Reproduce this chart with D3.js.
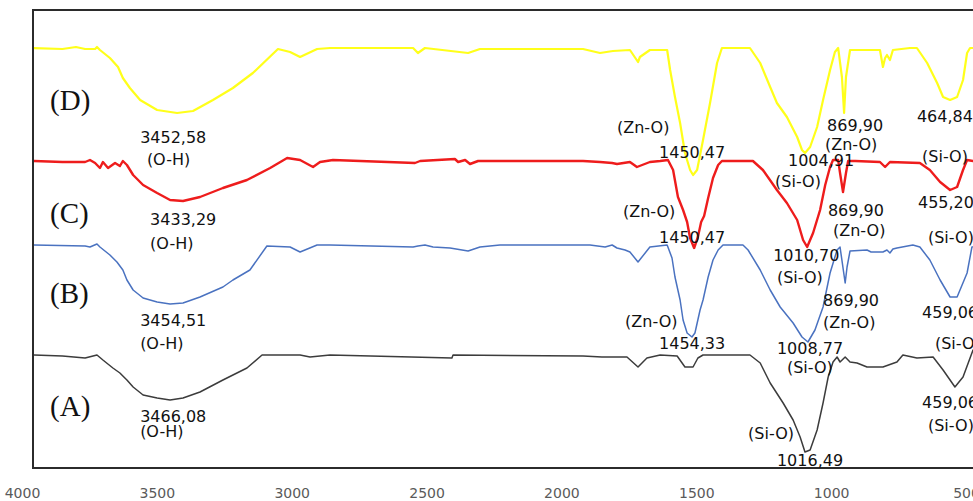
<!DOCTYPE html>
<html>
<head>
<meta charset="utf-8">
<script src="https://cdn.jsdelivr.net/npm/d3@7/dist/d3.min.js"></script>
<style>
  html, body { margin: 0; padding: 0; background: #fff; }
  svg { display: block; }
</style>
</head>
<body>
<svg id="chart" width="973" height="501"></svg>
<script>
// ---- DATA (wavenumber cm-1, offset transmittance in arbitrary units) ----
const xTicks = [4000, 3500, 3000, 2500, 2000, 1500, 1000, 500];

const seriesD = [[3963,420],[3850,419],[3800,421],[3766,419],[3729,419],[3722,421],[3711,418],[3674,410],[3644,401],[3626,390],[3600,380],[3562,368],[3499,358],[3425,355],[3366,357],[3292,368],[3218,380],[3144,395],[3051,419],[3006,416],[2969,411],[2906,419],[2858,420],[2550,420],[2532,415],[2506,420],[2346,415],[2302,419],[1920,419],[1857,415],[1809,417],[1746,418],[1716,406],[1709,411],[1672,418],[1608,418],[1597,398],[1579,371],[1560,345],[1542,315],[1523,298],[1512,293],[1497,298],[1475,328],[1449,365],[1423,405],[1405,420],[1301,420],[1263,405],[1226,381],[1201,365],[1164,351],[1126,331],[1108,318],[1097,315],[1078,321],[1052,341],[1030,368],[1004,398],[986,416],[974,420],[960,391],[952,355],[945,391],[930,418],[893,418],[819,418],[808,401],[800,410],[793,413],[782,408],[771,418],[708,420],[682,420],[644,405],[607,385],[585,371],[559,368],[533,371],[511,388],[496,415],[485,420],[440,420]];

const seriesC = [[3963,307],[3850,306],[3766,306],[3748,308],[3729,305],[3711,300],[3700,306],[3681,300],[3655,305],[3637,302],[3626,307],[3611,303],[3588,293],[3551,283],[3499,275],[3451,268],[3403,267],[3340,271],[3255,280],[3166,288],[3080,300],[3017,310],[2969,308],[2921,301],[2895,306],[2847,308],[2543,305],[2524,307],[2395,309],[2383,306],[2357,308],[2339,304],[2309,307],[1920,307],[1857,306],[1812,305],[1794,304],[1746,306],[1720,301],[1672,306],[1634,307],[1605,308],[1586,298],[1568,271],[1549,258],[1534,246],[1523,230],[1508,220],[1494,231],[1482,246],[1471,252],[1456,270],[1438,290],[1419,303],[1405,307],[1290,307],[1253,298],[1201,278],[1164,265],[1126,248],[1104,228],[1089,221],[1067,235],[1041,258],[1022,283],[1004,301],[993,308],[974,308],[967,295],[956,276],[945,295],[937,307],[911,307],[819,306],[800,301],[782,306],[671,305],[634,298],[596,286],[559,278],[533,281],[511,298],[496,308],[474,307],[440,307]];

const seriesB = [[3963,223],[3766,222],[3748,221],[3722,224],[3711,221],[3674,213],[3648,206],[3626,198],[3611,188],[3588,178],[3551,170],[3499,166],[3451,164],[3403,165],[3340,171],[3255,181],[3218,188],[3155,198],[3092,222],[3006,221],[2969,216],[2906,223],[2858,223],[2550,221],[2532,222],[2506,223],[2476,221],[2413,220],[2346,217],[2302,221],[2228,223],[1894,223],[1838,221],[1812,223],[1794,220],[1764,218],[1746,216],[1716,206],[1672,221],[1608,223],[1590,210],[1579,191],[1560,168],[1549,148],[1534,135],[1516,131],[1505,135],[1486,158],[1475,168],[1456,191],[1438,208],[1419,218],[1401,223],[1327,223],[1308,218],[1263,198],[1226,178],[1189,161],[1141,145],[1108,131],[1086,126],[1060,138],[1030,161],[1004,195],[978,218],[967,221],[948,185],[941,201],[930,217],[867,218],[852,216],[808,216],[793,218],[782,215],[771,219],[756,220],[697,223],[671,221],[634,208],[596,188],[559,171],[533,171],[496,195],[478,221],[440,223]];

const seriesA = [[3963,113],[3850,112],[3766,110],[3722,113],[3700,108],[3663,100],[3637,95],[3611,88],[3588,81],[3551,73],[3499,70],[3451,68],[3403,70],[3340,76],[3255,88],[3166,100],[3110,113],[2969,113],[2932,111],[2858,113],[2406,110],[2402,113],[1920,112],[1850,111],[1757,111],[1716,101],[1683,110],[1634,113],[1571,112],[1542,101],[1512,101],[1494,110],[1475,113],[1301,113],[1263,105],[1226,85],[1178,65],[1141,48],[1115,31],[1097,16],[1078,18],[1052,38],[1030,65],[1011,91],[993,106],[978,111],[967,106],[948,111],[930,106],[904,105],[867,101],[808,101],[756,106],[734,113],[682,110],[622,111],[585,98],[541,81],[511,91],[474,118],[440,113]];

const seriesNames = ["(D)", "(C)", "(B)", "(A)"];
const seriesColors = ["#ffff1a", "#ee1c1c", "#4a72c0", "#3c3c3c"];

// sample labels: [text, wavenumber, value]
const sampleLabels = [["(D)",3896,358],["(C)",3896,245],["(B)",3896,165],["(A)",3896,52]];

// peak annotations: [text, wavenumber, value]
const peakLabels = [
  ["3452,58",3562,325],["(O-H)",3537,303],
  ["3433,29",3525,243],["(O-H)",3525,219],
  ["3454,51",3562,142],["(O-H)",3562,119],
  ["3466,08",3562,46],["(O-H)",3562,31],
  ["(Zn-O)",1794,335],["1450,47",1638,310],
  ["869,90",1015,337],["(Zn-O)",1023,318],
  ["1004,91",1160,302],["(Si-O)",1208,281],
  ["464,84",682,346],["(Si-O)",663,306],
  ["(Zn-O)",1772,251],["1450,47",1638,225],
  ["869,90",1012,252],["(Zn-O)",993,232],
  ["455,20",678,260],["(Si-O)",641,225],
  ["1010,70",1215,207],["(Si-O)",1201,185],
  ["869,90",1030,162],["(Zn-O)",1030,140],
  ["459,06",663,150],["(Si-O)",615,119],
  ["(Zn-O)",1764,141],["1454,33",1638,119],
  ["1008,77",1201,114],["(Si-O)",1164,95],
  ["459,06",663,60],["(Si-O)",641,37],
  ["(Si-O)",1308,29],["1016,49",1201,2]
];

// ---- DRAW ----
const svg = d3.select("#chart");
const W = 973, H = 501;
const plotLeft = 33, plotTop = 10, plotBottom = 468, plotRight = 1000;

const x = d3.scaleLinear().domain([4000, 500]).range([22, 966]);
const y = d3.scaleLinear().domain([0, 458]).range([468, 10]);

svg.append("defs").append("clipPath").attr("id", "clip")
  .append("rect").attr("x", plotLeft + 1).attr("y", plotTop + 1)
  .attr("width", plotRight - plotLeft).attr("height", plotBottom - plotTop - 2);

const line = d3.line().x(d => x(d[0])).y(d => y(d[1])).curve(d3.curveLinear);

const allSeries = [seriesD, seriesC, seriesB, seriesA];
const widths = [2.2, 2.4, 1.5, 1.5];
const g = svg.append("g").attr("clip-path", "url(#clip)");
allSeries.forEach((s, i) => {
  g.append("path").datum(s)
    .attr("d", line)
    .attr("fill", "none")
    .attr("stroke", seriesColors[i])
    .attr("stroke-width", widths[i])
    .attr("stroke-linejoin", "round");
});

// frame
svg.append("path")
  .attr("d", `M${plotRight},${plotTop}H${plotLeft}V${plotBottom}H${plotRight}`)
  .attr("fill", "none").attr("stroke", "#2b2b2b").attr("stroke-width", 2);

// x axis labels
const xAxis = d3.axisBottom(x).tickValues(xTicks).tickSize(0).tickPadding(0).tickFormat(d3.format("d"));
const ax = svg.append("g").attr("transform", `translate(0,${plotBottom})`).call(xAxis);
ax.select(".domain").remove();
ax.selectAll("text")
  .attr("y", 30).attr("dy", 0)
  .attr("font-family", "Tahoma, 'DejaVu Sans', sans-serif")
  .attr("font-size", 14)
  .attr("fill", "#5a5a5a");

// sample labels
svg.append("g").selectAll("text").data(sampleLabels).join("text")
  .attr("x", d => x(d[1])).attr("y", d => y(d[2]))
  .attr("font-family", "'Liberation Serif', 'Times New Roman', serif")
  .attr("font-size", 29)
  .attr("fill", "#111")
  .text(d => d[0]);

// peak annotations
svg.append("g").selectAll("text").data(peakLabels).join("text")
  .attr("x", d => x(d[1])).attr("y", d => y(d[2]))
  .attr("font-family", "Tahoma, 'DejaVu Sans', sans-serif")
  .attr("font-size", 16)
  .attr("fill", "#111")
  .text(d => d[0]);
</script>
</body>
</html>
